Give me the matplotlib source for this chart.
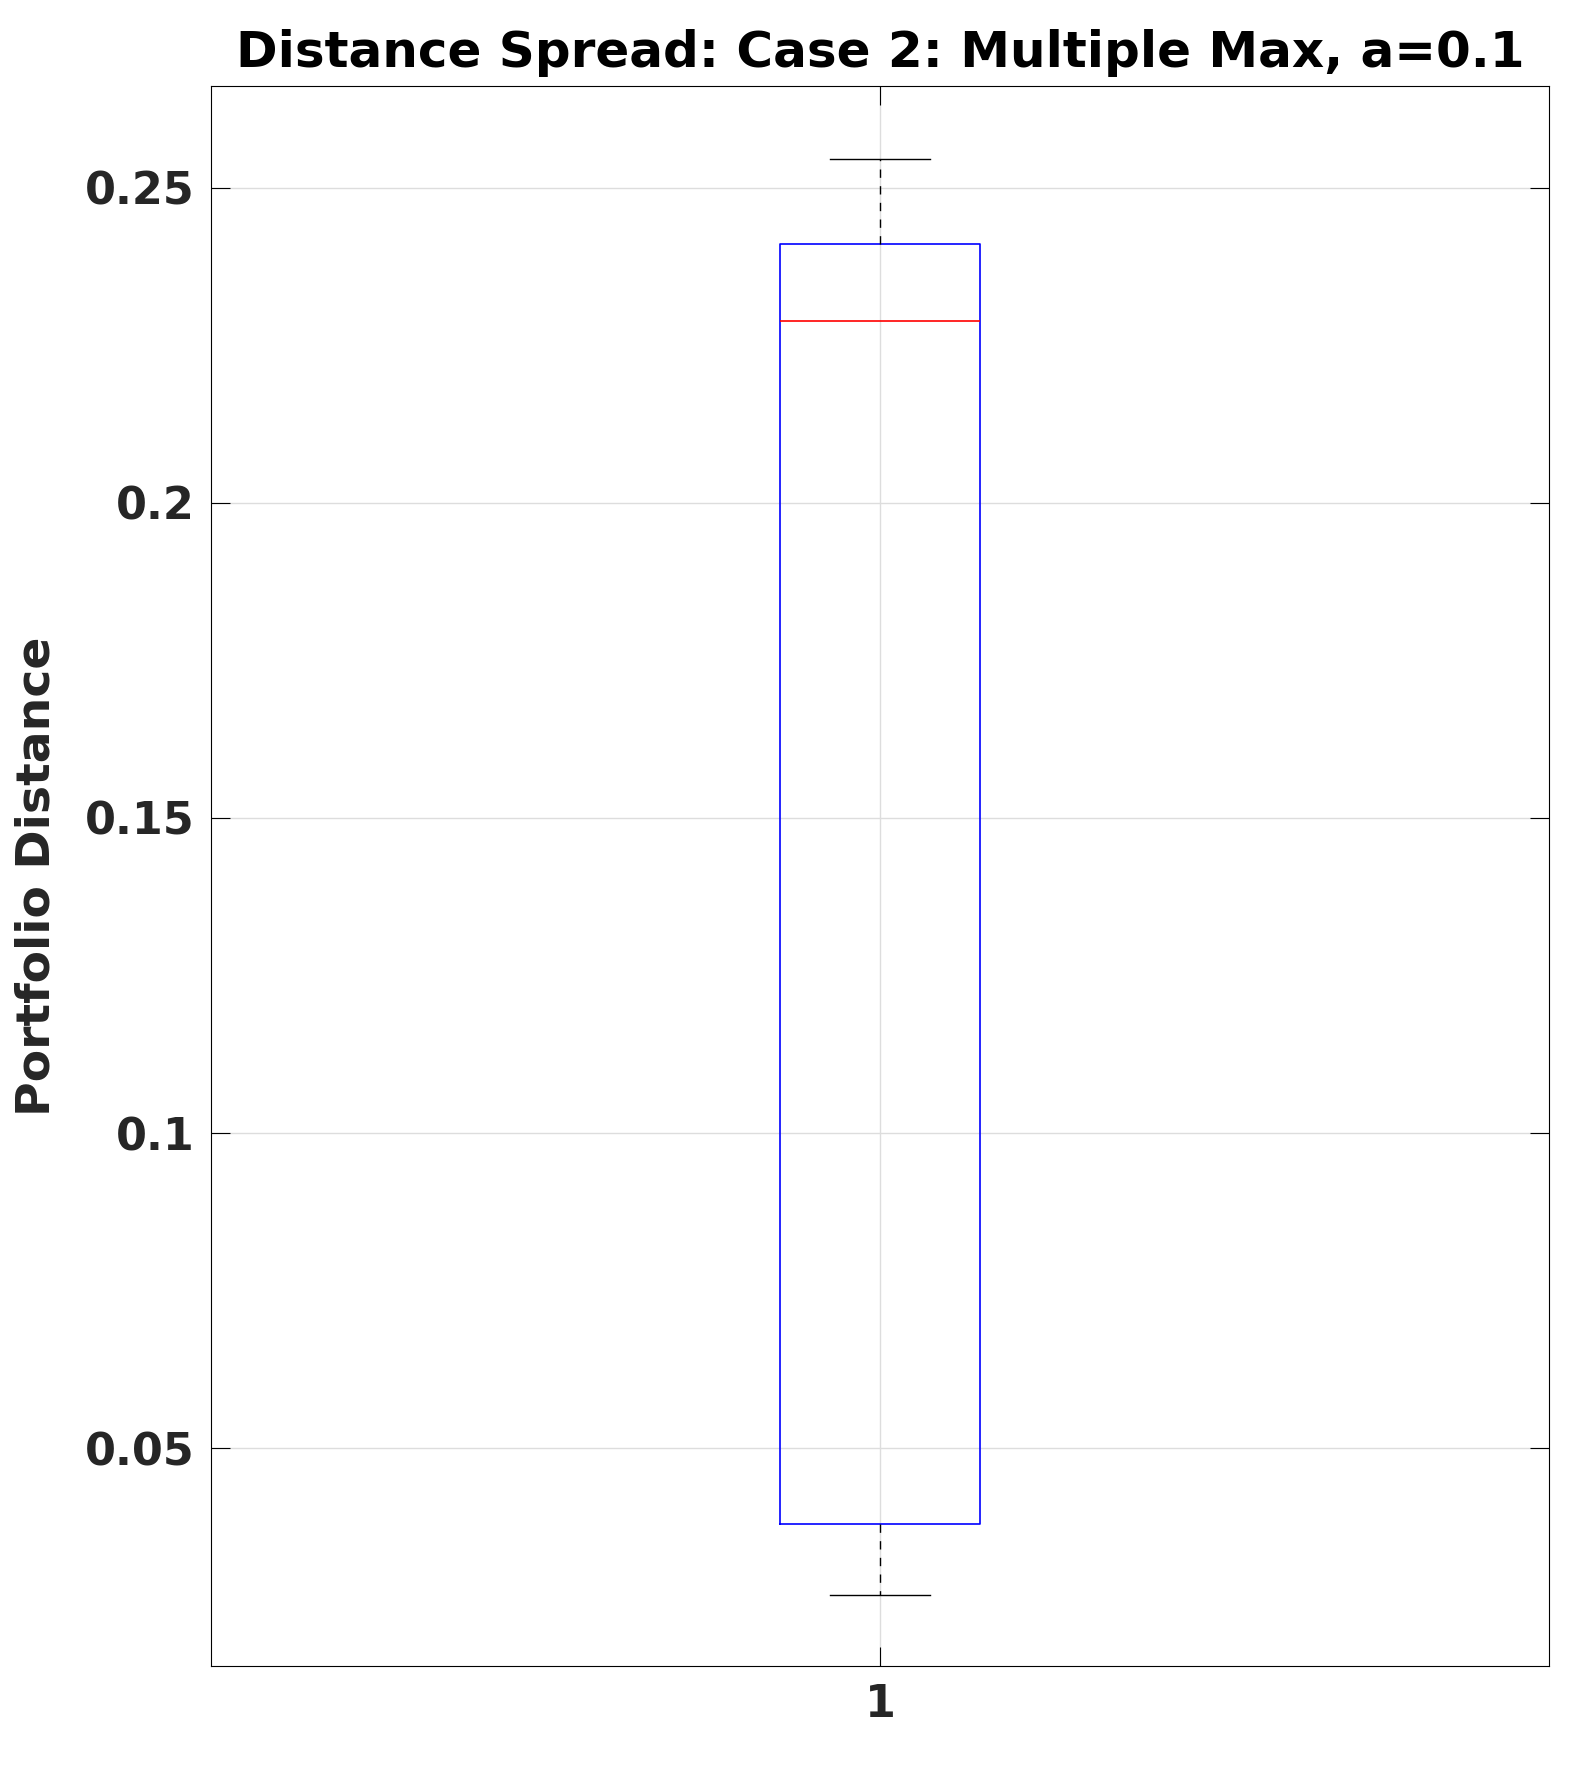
import matplotlib
matplotlib.use("Agg")
import matplotlib.pyplot as plt

labels = ["1"]
whislo = [0.0268]
q1 = [0.0380]
med = [0.2289]
q3 = [0.2411]
whishi = [0.2546]

stats = [dict(label=l, whislo=a, q1=b, med=c, q3=d, whishi=e, fliers=[])
         for l, a, b, c, d, e in zip(labels, whislo, q1, med, q3, whishi)]

fig = plt.figure(figsize=(15.8, 17.67), dpi=100)
ax = fig.add_axes([211/1580, 1 - 1666/1767, (1549-211)/1580, (1666-86)/1767])
ax.bxp(stats, positions=[1], widths=0.15, showfliers=False,
       boxprops=dict(color="blue", linewidth=1.2),
       medianprops=dict(color="red", linewidth=1.2),
       whiskerprops=dict(color="black", linestyle=(0, (6, 6)), linewidth=1.0),
       capprops=dict(color="black", linewidth=1.0), capwidths=0.075)
ax.set_xlim(0.5, 1.5)
ax.set_ylim(0.0155, 0.2661)
ax.set_xticks([1])
ax.set_xticklabels(labels)
ax.set_yticks([0.05, 0.1, 0.15, 0.2, 0.25])
ax.set_yticklabels(["0.05", "0.1", "0.15", "0.2", "0.25"])
ax.grid(True, color="#dddddd", linewidth=1)
ax.set_axisbelow(True)
ax.tick_params(direction="in", length=14, labelsize=32, pad=12, right=True, top=True)
for t in ax.get_xticklabels() + ax.get_yticklabels():
    t.set_fontweight("bold"); t.set_color("#262626")
ax.set_ylabel("Portfolio Distance", fontsize=34, fontweight="bold", color="#262626", labelpad=18)
ax.set_title("Distance Spread: Case 2: Multiple Max, a=0.1", fontsize=36, fontweight="bold", pad=14)
fig.savefig("out.png", dpi=100)
